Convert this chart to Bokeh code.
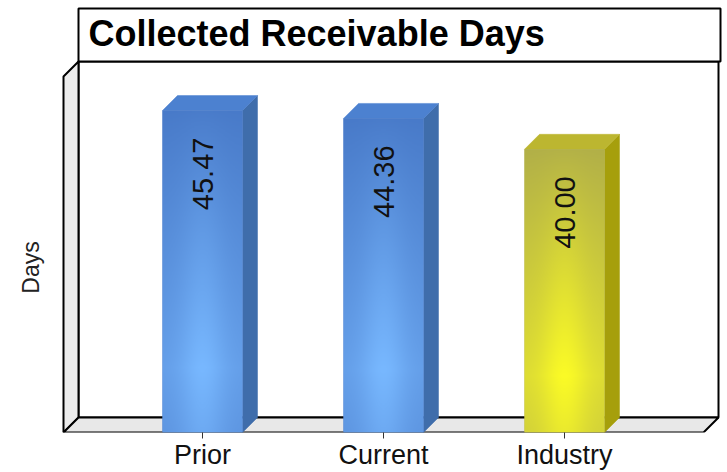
import numpy as np
from bokeh.plotting import figure
from bokeh.models import Range1d, FixedTicker
from bokeh.core.properties import value
from bokeh.embed import file_html
from bokeh.resources import INLINE

# ---- data ----
categories = ["Prior", "Current", "Industry"]
days = [45.47, 44.36, 40.00]
value_labels = ["45.47", "44.36", "40.00"]

# per-bar colours: front face (dark, light), side face, top face
front_dark = ["#4677c6", "#4677c6", "#aeac4a"]
front_light = ["#78b8ff", "#78b8ff", "#fbfb26"]
side_colors = ["#3f6dab", "#3f6dab", "#a69f0c"]
top_colors = ["#4c81d0", "#4c81d0", "#bcb630"]

# ---- geometry helpers (screen pixels -> data units) ----
FRAME_W, FRAME_H = 727, 432
CAT_PX = 181.0      # pixels between category centres
X0_PX = 202.0       # pixel column of the first category
PX_PER_DAY = 7.08   # vertical pixels per day
DEPTH_PX = 15.0     # 3-D depth offset
BAR_PX = 80.0


def xd(px):
    return (px - X0_PX) / CAT_PX


def yd(py):
    return (FRAME_H - py) / PX_PER_DAY


dx = DEPTH_PX / CAT_PX
dy = DEPTH_PX / PX_PER_DAY
bw = BAR_PX / CAT_PX

p = figure(frame_width=FRAME_W, frame_height=FRAME_H,
           x_range=Range1d(xd(0), xd(FRAME_W)), y_range=Range1d(0, yd(0)),
           output_backend="svg", toolbar_location=None,
           min_border_left=0, min_border_right=0, min_border_top=0,
           min_border_bottom=40)
p.outline_line_color = None
p.background_fill_color = "white"
p.border_fill_color = "white"
p.xgrid.visible = False
p.ygrid.visible = False
p.yaxis.visible = False

# ---- x axis ----
xs = list(range(len(categories)))
p.xaxis.ticker = FixedTicker(ticks=xs)
p.xaxis.major_label_overrides = {i: c for i, c in enumerate(categories)}
p.xaxis.axis_line_color = None
p.xaxis.minor_tick_line_color = None
p.xaxis.major_tick_in = 0
p.xaxis.major_tick_out = 6
p.xaxis.major_tick_line_color = "#333333"
p.xaxis.major_label_standoff = 1
p.xaxis.major_label_text_font = "Liberation Sans"
p.xaxis.major_label_text_font_size = "27px"
p.xaxis.major_label_text_color = "#111111"

# ---- chart box: back wall, left wall, floor ----
xL, xR = xd(63), xd(703)
top_front = yd(76)
p.quad(left=xL + dx, right=xR + dx, bottom=dy, top=top_front + dy,
       fill_color="white", line_color="black", line_width=2)
p.patch([xL, xL, xL + dx, xL + dx], [0, top_front, top_front + dy, dy],
        fill_color="#ececec", line_color="black", line_width=2)
p.patch([xL, xR, xR + dx, xL + dx], [0, 0, dy, dy],
        fill_color="#e8e8e8", line_color="black", line_width=2)

# ---- title box ----
p.quad(left=xL + dx, right=xd(720), bottom=top_front + dy, top=yd(8),
       fill_color="white", line_color="black", line_width=2)
p.text(x=[xd(88)], y=[(top_front + dy + yd(8)) / 2 + 1.5 / PX_PER_DAY],
       text=["Collected Receivable Days"],
       text_font=value("Liberation Sans"), text_font_style="bold",
       text_font_size="36px", text_align="left", text_baseline="middle",
       text_color="black")

# ---- y axis title ----
p.text(x=[xd(30)], y=[yd(267)], text=["Days"], angle=np.pi / 2,
       text_font=value("Liberation Sans"), text_font_size="23px",
       text_align="center", text_baseline="middle", text_color="#222222")


# ---- 3-D bars ----
def hex_rgb(h):
    h = h.lstrip("#")
    return np.array([int(h[i:i + 2], 16) for i in (0, 2, 4)], dtype=float)


def shaded_face(dark, light, h=240, w=80):
    v = np.linspace(0, 1, h)[:, None]          # 0 at the base
    u = np.linspace(0, 1, w)[None, :]
    hor = np.exp(-((u - 0.5) / 0.3) ** 2)
    vert = np.clip(1 - np.abs(v - 0.2) / 0.85, 0, 1) ** 0.9
    t = vert * (0.6 + 0.4 * hor)
    d, l = hex_rgb(dark), hex_rgb(light)
    rgb = d[None, None, :] + (l - d)[None, None, :] * t[..., None]
    img = np.empty((h, w), dtype=np.uint32)
    view = img.view(dtype=np.uint8).reshape((h, w, 4))
    view[..., :3] = np.clip(rgb, 0, 255).astype(np.uint8)
    view[..., 3] = 255
    return img


for i, val in enumerate(days):
    left, right = i - bw / 2, i + bw / 2
    # side face
    p.patch([right, right + dx, right + dx, right], [0, dy, val + dy, val],
            fill_color=side_colors[i], line_color=side_colors[i], line_width=0.5)
    # top face
    p.patch([left, right, right + dx, left + dx], [val, val, val + dy, val + dy],
            fill_color=top_colors[i], line_color=top_colors[i], line_width=0.5)

# front faces: solid bar plus shaded overlay of the same size
p.vbar(x=xs, top=days, width=bw, bottom=0, fill_color=front_dark, line_color=None)
for i, val in enumerate(days):
    p.image_rgba(image=[shaded_face(front_dark[i], front_light[i])],
                 x=i - bw / 2, y=0, dw=bw, dh=val)

# value labels written upward inside each bar
LABEL_GAP_PX = 27
p.text(x=xs, y=[v - LABEL_GAP_PX / PX_PER_DAY for v in days], text=value_labels,
       angle=np.pi / 2, text_font=value("Liberation Sans"), text_font_size="29px",
       text_align="right", text_baseline="middle", text_color="#111111")

open("out.html", "w").write(file_html(p, INLINE))
